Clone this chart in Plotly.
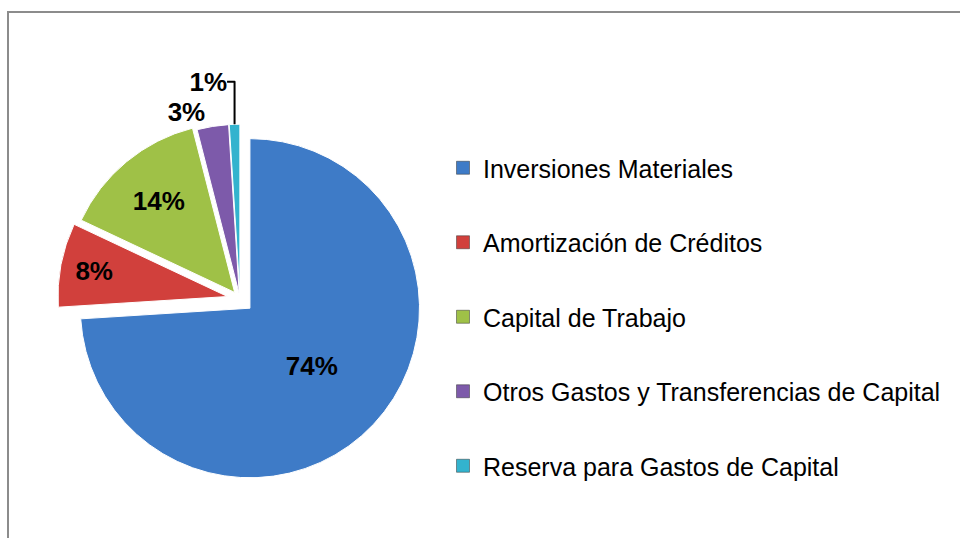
import plotly.graph_objects as go

categories = ["Inversiones Materiales", "Amortización de Créditos", "Capital de Trabajo",
              "Otros Gastos y Transferencias de Capital", "Reserva para Gastos de Capital"]
values = [74, 8, 14, 3, 1]
colors = ["#3E7BC7", "#D1403C", "#9FC147", "#7D5AAA", "#33B3CE"]
pulls = [0.08, 0.075, 0.05, 0.03, 0.03]
positions = ["inside", "inside", "inside", "outside", "outside"]

FONT = "Liberation Sans, Arial, sans-serif"

fig = go.Figure()
fig.add_trace(go.Pie(
    labels=categories, values=values, sort=False, direction="clockwise", rotation=0,
    pull=pulls, marker=dict(colors=colors, line=dict(color="white", width=1)),
    textinfo="percent", texttemplate="%{percent:.0%}", textposition=positions,
    insidetextorientation="horizontal",
    textfont=dict(family=FONT, size=26, color="black", weight="bold"),
    outsidetextfont=dict(family=FONT, size=26, color="black", weight="bold"),
    showlegend=False, hoverinfo="label+percent",
    domain=dict(x=[0.0587, 0.4414], y=[0.104, 0.7848]),
))

for i, (name, col) in enumerate(zip(categories, colors)):
    fig.add_trace(go.Scatter(
        x=[None], y=[None], mode="markers", name=name, legendgroup=f"g{i}",
        marker=dict(symbol="square", size=13, color=col, line=dict(color="#333", width=0.5)),
        hoverinfo="skip",
    ))

fig.add_shape(type="rect", xref="paper", yref="paper",
              x0=8/960, x1=1.2, y0=-0.2, y1=1 - 12/538,
              line=dict(color="#8C8C8C", width=2), fillcolor="rgba(0,0,0,0)", layer="below")

fig.update_layout(
    width=960, height=538,
    margin=dict(l=0, r=0, t=0, b=0),
    paper_bgcolor="white", plot_bgcolor="white",
    xaxis=dict(visible=False), yaxis=dict(visible=False),
    legend=dict(x=443/960, xanchor="left", y=1 - 145/538, yanchor="top",
                font=dict(family=FONT, size=25, color="black"),
                tracegroupgap=39, bgcolor="rgba(0,0,0,0)"),
    font=dict(family=FONT),
)

fig.write_html("out.html", config={"displayModeBar": False},
               post_script="document.body.style.margin='0';document.body.style.overflow='hidden';")
